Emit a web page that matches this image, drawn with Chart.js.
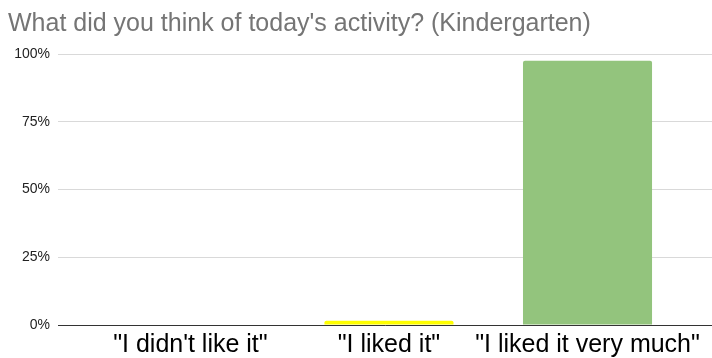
<!DOCTYPE html>
<html>
<head>
<meta charset="utf-8">
<script src="https://cdn.jsdelivr.net/npm/chart.js@4/dist/chart.umd.min.js"></script>
<style>
  html, body { margin: 0; padding: 0; background: #fff; }
  #wrap { width: 712px; height: 358px; }
</style>
</head>
<body>
<div id="wrap"><canvas id="chart"></canvas></div>
<script>
// data
const chartTitle = "What did you think of today's activity? (Kindergarten)";
const categories = ['"I didn\'t like it"', '"I liked it"', '"I liked it very much"'];
const percents = [0, 1.6, 97.5];
const barColors = ['#93c47d', '#ffff00', '#93c47d'];
const yTicks = [0, 25, 50, 75, 100];

// bars sit on a numeric x axis so the empty space left of the first bar can be kept
const points = percents.map((v, i) => ({ x: i, y: v }));

new Chart(document.getElementById('chart'), {
  type: 'bar',
  data: {
    datasets: [{
      data: points,
      backgroundColor: barColors,
      borderRadius: 2,
      borderSkipped: 'bottom',
      categoryPercentage: 0.65,
      barPercentage: 1
    }]
  },
  options: {
    responsive: true,
    maintainAspectRatio: false,
    animation: false,
    layout: { padding: { left: 8, right: 0, top: 0, bottom: 0 } },
    plugins: {
      legend: { display: false },
      tooltip: { enabled: false },
      title: {
        display: true,
        text: chartTitle,
        align: 'start',
        color: '#757575',
        font: { family: 'Liberation Sans, Arial', size: 25, weight: 'normal' },
        padding: { top: 9, bottom: 15 }
      }
    },
    scales: {
      x: {
        type: 'linear',
        offset: false,
        min: -0.667,
        max: 2.627,
        afterBuildTicks: s => { s.ticks = categories.map((_, i) => ({ value: i })); },
        // labels run slightly past the bottom edge, as in the reference
        afterFit: s => { s.height = 33; },
        ticks: {
          callback: v => categories[v],
          color: '#000',
          font: { family: 'Liberation Sans, Arial', size: 25 },
          maxRotation: 0,
          autoSkip: false,
          padding: 5
        },
        grid: { display: false, drawTicks: false },
        border: { display: true, color: '#333', width: 1 }
      },
      y: {
        min: 0,
        max: 100,
        afterBuildTicks: s => { s.ticks = yTicks.map(v => ({ value: v })); },
        afterFit: s => { s.width = 50; },
        ticks: {
          callback: v => v + '%',
          color: '#222',
          font: { family: 'Liberation Sans, Arial', size: 14 },
          padding: 8
        },
        grid: { color: '#d9d9d9', drawTicks: false },
        border: { display: false }
      }
    }
  }
});
</script>
</body>
</html>
